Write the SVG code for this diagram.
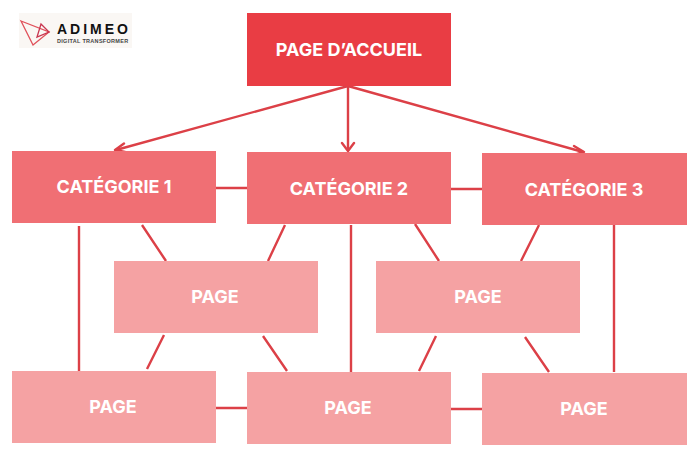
<svg xmlns="http://www.w3.org/2000/svg" width="700" height="456" viewBox="0 0 700 456">
<style>
text{font-family:Inter,"Liberation Sans",sans-serif;font-weight:700;fill:#fff;text-anchor:middle}
.l{font-size:18px}
.top{fill:#e93d44}.cat{fill:#f06f74}.pg{fill:#f5a2a3}
.c{stroke:#dc4047;stroke-width:2.4;fill:none}
.a{stroke:#dc4047;stroke-width:2.4;fill:none;stroke-linecap:round;stroke-linejoin:round}
#logo text{font-family:"Liberation Sans",sans-serif;text-anchor:start}
</style>
<rect width="700" height="456" fill="#fff"/>
<g id="connectors">
<path class="c" d="M348 86L116 150M348 86V150M348 86L583 152"/>
<path class="a" d="M124 143.500L115 150L125 152M342 143L348 151L354 143M574 146L584 152L574 155"/>
<path class="c" d="M216 188H247M451 189H482M79 226V371M351 225V372M614 225V372M142 225L166 261M285 225L268 261M415 224L439 261M539 225L521 261M164 335L147 369M263 336L287 371M436 336L419 371M525 337L549 372M216 408H247M451 409H482"/>
</g>
<g id="logo">
<rect x="19" y="13" width="113" height="35" fill="#faf7f4"/>
<path d="M21 21L49 32L33 45Z" fill="none" stroke="#e0505a" stroke-width="1.300"/>
<path d="M41 24L49 32L37 37Z" fill="none" stroke="#c8354f" stroke-width="1.300"/>
<text x="57" y="33.500" font-size="14" letter-spacing="3" style="fill:#111">ADIMEO</text>
<text x="57" y="43" font-size="5.500" font-weight="400" letter-spacing="0.300" style="fill:#444">DIGITAL TRANSFORMER</text>
</g>
<g id="home"><rect class="top" x="247" y="13" width="204" height="73"/><text class="l" x="349" y="56">PAGE D’ACCUEIL</text></g>
<g id="cat1"><rect class="cat" x="12" y="151" width="204" height="72"/><text class="l" x="114" y="193">CATÉGORIE 1</text></g>
<g id="cat2"><rect class="cat" x="247" y="152" width="204" height="72"/><text class="l" x="349" y="195">CATÉGORIE 2</text></g>
<g id="cat3"><rect class="cat" x="482" y="153" width="205" height="72"/><text class="l" x="584" y="196">CATÉGORIE 3</text></g>
<g id="page1"><rect class="pg" x="114" y="261" width="204" height="72"/><text class="l" x="215" y="303">PAGE</text></g>
<g id="page2"><rect class="pg" x="376" y="261" width="204" height="72"/><text class="l" x="478" y="303">PAGE</text></g>
<g id="page3"><rect class="pg" x="12" y="371" width="204" height="72"/><text class="l" x="113" y="413">PAGE</text></g>
<g id="page4"><rect class="pg" x="247" y="372" width="204" height="72"/><text class="l" x="348" y="414">PAGE</text></g>
<g id="page5"><rect class="pg" x="482" y="373" width="205" height="72"/><text class="l" x="584" y="415">PAGE</text></g>
</svg>
